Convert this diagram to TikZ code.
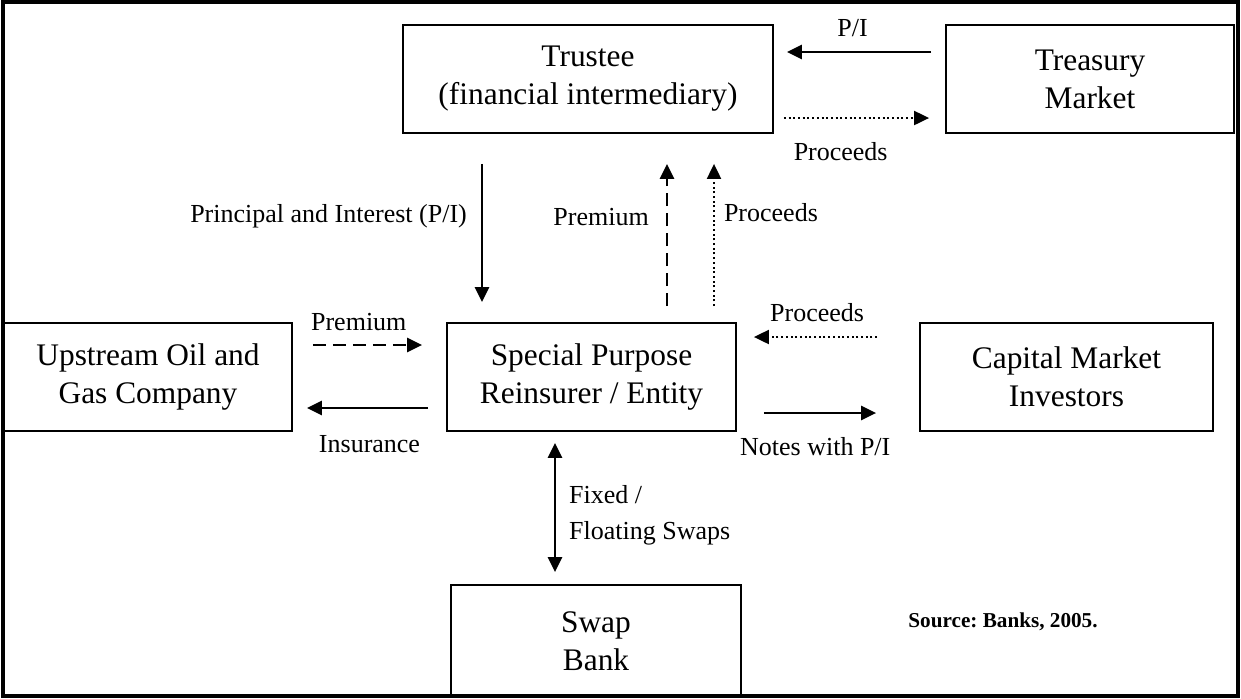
\documentclass[tikz,border=0pt]{standalone}
\usepackage{fontspec}
\setmainfont{Liberation Serif}
\usetikzlibrary{arrows.meta}
\frenchspacing
\tikzset{
  box/.style={
    draw=black,
    line width=.9pt,
    align=center,
    inner sep=0pt,
    minimum height=54pt,
    font=\fontsize{15.7}{19}\selectfont
  },
  note/.style={
    inner sep=0pt,
    align=center,
    font=\fontsize{13}{18}\selectfont
  },
  arrow/.style={
    ->,
    line width=1.2pt
  },
  dasharrow/.style={
    arrow,
    dash pattern=on 6.5pt off 3.5pt
  },
  dotarrow/.style={
    arrow,
    line width=1pt,
    dash pattern=on 1pt off 1.35pt
  }
}

\begin{document}
\begin{tikzpicture}[x=.5pt, y=-.5pt, >={Triangle[length=7.5pt,width=7pt]}]
\useasboundingbox (0,0) rectangle (1241,698);
\draw[line width=1.6pt] (3,2) rectangle (1238,696);
\node[box, minimum width=185pt] (tru) at (588,79) {Trustee\\(financial intermediary)};
\node[box, minimum width=144pt] (tre) at (1090,79) {Treasury\\Market};
\node[box, minimum width=144pt] (oil) at (148,377) {Upstream Oil and\\Gas Company};
\node[box, minimum width=144.5pt] (spv) at (591.5,377) {Special Purpose\\Reinsurer / Entity};
\node[box, minimum width=146.5pt] (cap) at (1066.5,377) {Capital Market\\Investors};
\node[box, minimum width=145pt, minimum height=56pt] (swap) at (596,641) {Swap\\Bank};
\node[anchor=west, inner sep=0pt, font=\fontsize{10.6}{12}\selectfont\bfseries] (src) at (908,622) {Source: Banks, 2005.};
% trustee and treasury
\draw[arrow, shorten <=7pt, shorten >=6.5pt] ([yshift=13.5pt]tre.west) -- ([yshift=13.5pt]tru.east)
  node[note, pos=.54, yshift=12pt] {P/I};
\draw[dotarrow, shorten <=5pt, shorten >=8pt] ([yshift=-19.5pt]tru.east) -- ([yshift=-19.5pt]tre.west)
  node[note, pos=.39, yshift=-17pt] {Proceeds};
% trustee and reinsurer
\draw[arrow, shorten <=15pt, shorten >=10pt] ([xshift=-53pt]tru.south) -- ([xshift=-53pt]tru.south |- spv.north)
  node[note, pos=.44, left=7pt] {Principal and Interest (P/I)};
\draw[dasharrow, shorten <=8pt, shorten >=15pt] ([xshift=37.75pt]spv.north) -- ([xshift=37.75pt]spv.north |- tru.south)
  node[note, pos=.56, left=8.5pt] {Premium};
\draw[dotarrow, shorten <=8pt, shorten >=15pt] ([xshift=61.25pt]spv.north) -- ([xshift=61.25pt]spv.north |- tru.south)
  node[note, pos=.58, right=4.5pt] {Proceeds};
% oil company
\draw[dasharrow, shorten <=10pt, shorten >=12pt] ([yshift=16pt]oil.east) -- ([yshift=16pt]spv.west)
  node[note, pos=.43, yshift=11.5pt] {Premium};
\draw[arrow, shorten <=9pt, shorten >=7pt] ([yshift=-15.5pt]spv.west) -- ([yshift=-15.5pt]oil.east)
  node[note, pos=.5, yshift=-18pt] {Insurance};
% investors
\draw[dotarrow, shorten <=21pt, shorten >=8.5pt] ([yshift=20pt]cap.west) -- ([yshift=20pt]spv.east)
  node[note, pos=.56, yshift=12pt] {Proceeds};
\draw[arrow, shorten <=13.5pt, shorten >=21.5pt] ([yshift=-18pt]spv.east) -- ([yshift=-18pt]cap.west)
  node[note, pos=.43, yshift=-17pt] {Notes with P/I};
% swap bank
\draw[arrow, <->, shorten <=5.5pt, shorten >=6pt] ([xshift=-18.25pt]spv.south) -- ([xshift=-18.25pt]spv.south |- swap.north)
  node[note, pos=.545, right=6.5pt, align=left] {Fixed /\\Floating Swaps};
\end{tikzpicture}
\end{document}
